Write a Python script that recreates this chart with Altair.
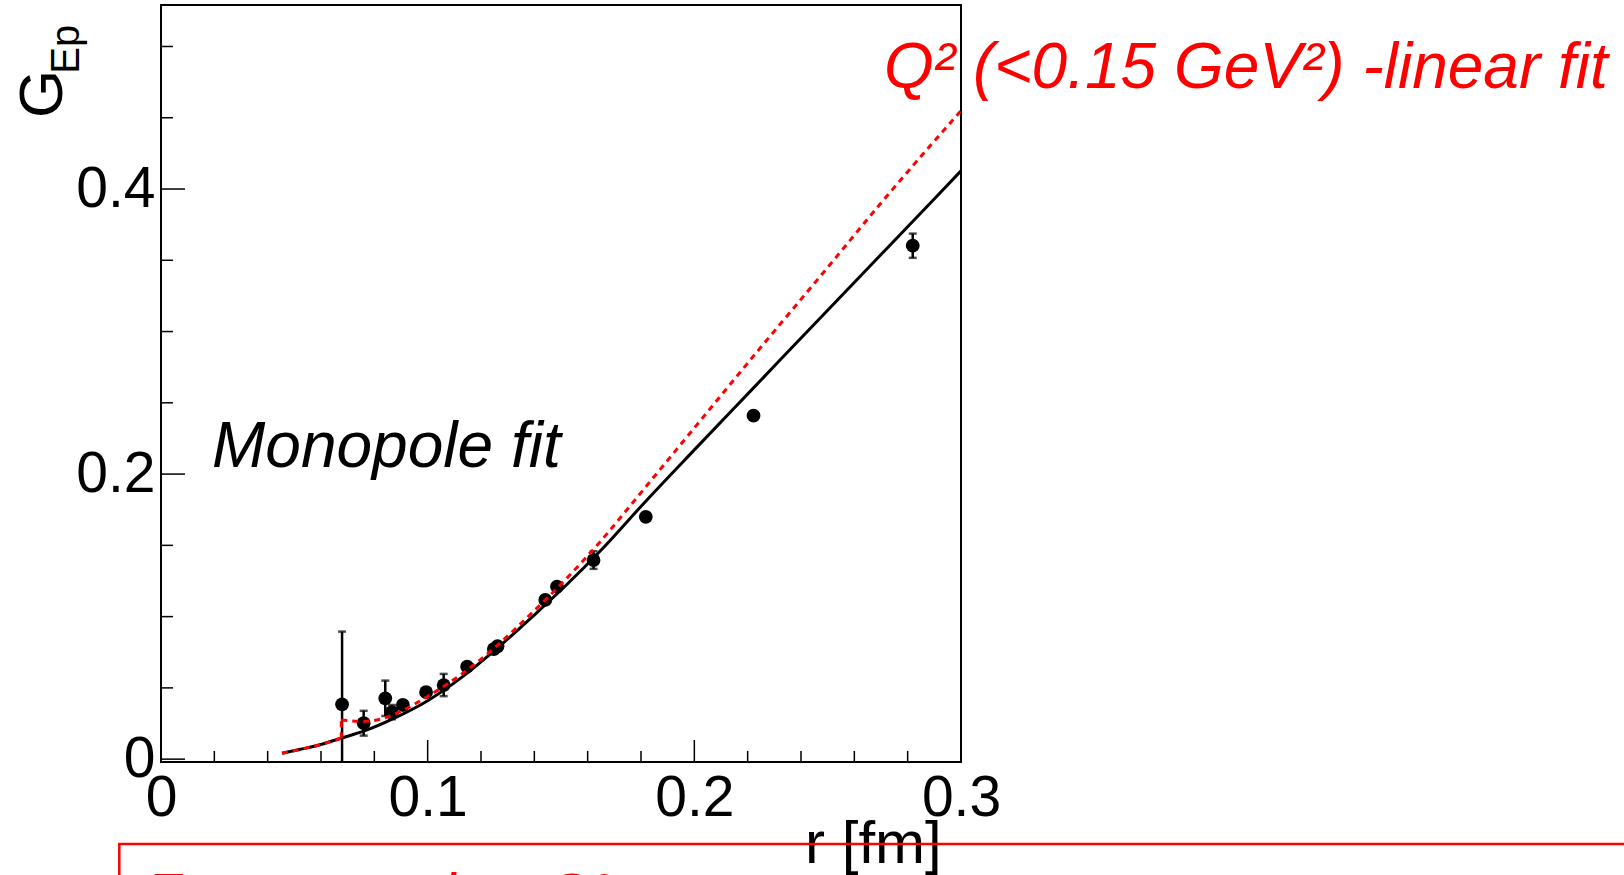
import altair as alt
import pandas as pd

# Measured points: r [fm], G_Ep and its (symmetric) uncertainty
r_pts = [0.0679, 0.0760, 0.0841, 0.0866, 0.0907, 0.0994, 0.1060, 0.1148, 0.1248,
         0.1262, 0.1441, 0.1485, 0.1622, 0.1818, 0.2222, 0.2819]
g_pts = [0.0385, 0.0252, 0.0427, 0.0330, 0.0380, 0.0470, 0.0520, 0.0649, 0.0772,
         0.0792, 0.1117, 0.1210, 0.1397, 0.1700, 0.2410, 0.3602]
g_err = [0.0510, 0.0087, 0.0124, 0.0050, 0.0030, 0.0030, 0.0078, 0.0020, 0.0030,
         0.0030, 0.0030, 0.0030, 0.0062, 0.0020, 0.0020, 0.0085]

# Monopole fit curve
r_mono = [0.0454, 0.0523, 0.0600, 0.0676, 0.0760, 0.0873, 0.1000, 0.1125, 0.1259, 0.1396,
          0.1522, 0.1647, 0.1818, 0.2000, 0.2222, 0.2500, 0.2700, 0.2896, 0.3000]
g_mono = [0.0041, 0.0069, 0.0103, 0.0147, 0.0196, 0.0286, 0.0410, 0.0570, 0.0775, 0.1005,
          0.1225, 0.1460, 0.1810, 0.2170, 0.2605, 0.3150, 0.3540, 0.3923, 0.4127]

# Linear fit in Q^2 (< 0.15 GeV^2): low-r piece, the step at the first point, the fitted piece
r_lin = [0.0454, 0.0523, 0.0600, 0.0676,
         0.0676, 0.0676,
         0.0676, 0.0760, 0.0840, 0.0910, 0.1000, 0.1148, 0.1259, 0.1396, 0.1522, 0.1647,
         0.1800, 0.2000, 0.2222, 0.2500, 0.2697, 0.3000]
g_lin = [0.0041, 0.0069, 0.0103, 0.0147,
         0.0147, 0.0275,
         0.0275, 0.0265, 0.0290, 0.0345, 0.0440, 0.0625, 0.0795, 0.1035, 0.1270, 0.1526,
         0.1870, 0.2324, 0.2828, 0.3450, 0.3895, 0.4550]
seg_lin = [0, 0, 0, 0, 1, 1] + [2] * 16

# Axis ticks
x_major = [0.0, 0.1, 0.2, 0.3]
x_minor = [0.02, 0.04, 0.06, 0.08, 0.12, 0.14, 0.16, 0.18, 0.22, 0.24, 0.26, 0.28]
y_major = [0.0, 0.2, 0.4]
y_minor = [0.05, 0.10, 0.15, 0.25, 0.30, 0.35, 0.45, 0.50]

W, H = 800, 757
FONT = "Liberation Sans"
RED = "#ff0000"

pts = pd.DataFrame({"r": r_pts, "g": g_pts, "e": g_err})
pts["lo"] = pts["g"] - pts["e"]
pts["hi"] = pts["g"] + pts["e"]
mono = pd.DataFrame({"r": r_mono, "g": g_mono, "i": range(len(r_mono))})
lin = pd.DataFrame({"r": r_lin, "g": g_lin, "s": seg_lin, "i": range(len(r_lin))})

xs = alt.Scale(domain=[0, 0.3], nice=False, zero=False)
ys = alt.Scale(domain=[-0.002, 0.5291], nice=False, zero=False)

x_axis = alt.Axis(values=x_major, title=None, ticks=False, tickSize=0, domain=False, grid=False,
                  labelFont=FONT, labelFontSize=57, labelColor="black", labelPadding=8,
                  labelFlush=False, labelOverlap=False, labelBound=False,
                  labelExpr="datum.value == 0 ? '0' : format(datum.value, '.1f')")
y_axis = alt.Axis(values=y_major, title=None, ticks=False, tickSize=0, domain=False, grid=False,
                  labelFont=FONT, labelFontSize=57, labelColor="black", labelPadding=6,
                  labelOverlap=False, labelBound=False,
                  labelExpr="datum.value == 0 ? '0' : format(datum.value, '.1f')")


def X(field="r"):
    return alt.X(f"{field}:Q", scale=xs, axis=x_axis)


def Y(field="g"):
    return alt.Y(f"{field}:Q", scale=ys, axis=y_axis)


# inward ticks on the bottom and left edges of the frame
def x_ticks(vals, length):
    return alt.Chart(pd.DataFrame({"r": vals})).mark_rule(color="black", strokeWidth=1.5).encode(
        x=X(), y=alt.value(H), y2=alt.value(H - length))


def y_ticks(vals, length):
    return alt.Chart(pd.DataFrame({"g": vals})).mark_rule(color="black", strokeWidth=1.5).encode(
        y=Y(), x=alt.value(0), x2=alt.value(length))


err_bars = alt.Chart(pts).mark_rule(color="black", strokeWidth=2.5, clip=True).encode(
    x=X(), y=Y("lo"), y2="hi:Q")
caps_lo = alt.Chart(pts).mark_tick(color="black", orient="horizontal", size=8, thickness=2.5,
                                   clip=True).encode(x=X(), y=Y("lo"))
caps_hi = alt.Chart(pts).mark_tick(color="black", orient="horizontal", size=8, thickness=2.5,
                                   clip=True).encode(x=X(), y=Y("hi"))
points = alt.Chart(pts).mark_circle(color="black", size=190, opacity=1).encode(x=X(), y=Y())

mono_line = alt.Chart(mono).mark_line(color="black", strokeWidth=3,
                                      interpolate="monotone").encode(
    x=X(), y=Y(), order="i:Q")
lin_line = alt.Chart(lin).mark_line(color=RED, strokeWidth=3, strokeDash=[6, 5],
                                    interpolate="monotone").encode(
    x=X(), y=Y(), detail="s:N", order="i:Q")


def label(text, x, y, size, color="black", italic=False, angle=0, align="left"):
    kw = dict(text=text, font=FONT, fontSize=size, color=color, align=align,
              baseline="alphabetic")
    if italic:
        kw["fontStyle"] = "italic"
    if angle:
        kw["angle"] = angle
    return alt.Chart(pd.DataFrame({"k": [0]})).mark_text(**kw).encode(
        x=alt.value(x), y=alt.value(y))


y_title_g = label("G", -99.3, 113, 62, angle=270)
y_title_sub = label("Ep", -82, 68.7, 40, angle=270)
x_title = label("r [fm]", 780.7, 858.3, 60, align="right")
mono_text = label("Monopole fit", 51, 461.7, 64, italic=True)
lin_text = label("Q² (<0.15 GeV²) -linear fit", 723, 83.3, 64, color=RED, italic=True)

box = alt.Chart(pd.DataFrame({"k": [0]})).mark_rect(
    stroke=RED, strokeWidth=2.5, fillOpacity=0).encode(
    x=alt.value(-41.7), x2=alt.value(1490), y=alt.value(839), y2=alt.value(990))
box_text = label("Zoom near low Q²", -15, 909, 58, color=RED, italic=True)

chart = alt.layer(
    x_ticks(x_minor, 11), x_ticks(x_major, 22),
    y_ticks(y_minor, 12), y_ticks(y_major, 24),
    err_bars, caps_lo, caps_hi, points, mono_line, lin_line,
    mono_text, lin_text, y_title_g, y_title_sub, x_title, box, box_text,
).properties(
    width=W, height=H,
    autosize=alt.AutoSizeParams(type="none"),
    padding={"left": 161, "top": 5, "right": 663, "bottom": 113},
    background="white",
).configure_view(stroke="black", strokeWidth=2)

chart.save("out.html", embed_options={"renderer": "svg", "actions": False})
